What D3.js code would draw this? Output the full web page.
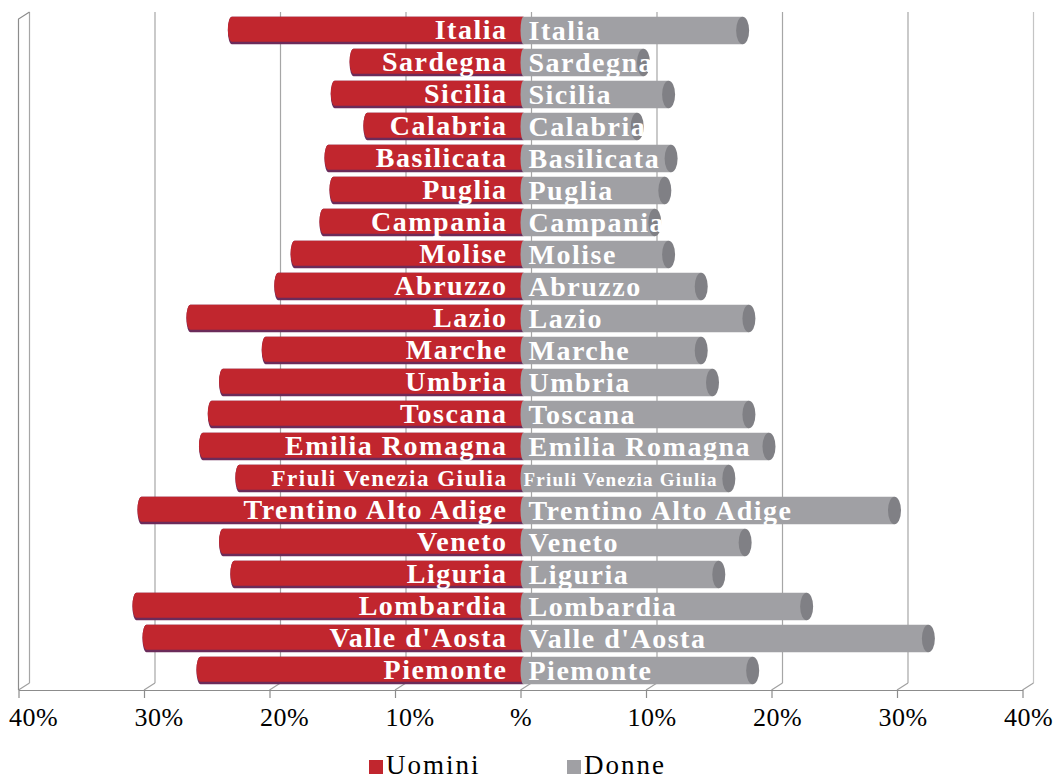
<!DOCTYPE html>
<html>
<head>
<meta charset="utf-8">
<script src="https://cdn.jsdelivr.net/npm/d3@7"></script>
<style>
  html, body { margin: 0; padding: 0; background: #ffffff; }
  svg { display: block; }
</style>
</head>
<body>
<script>
// ---------------- DATA ----------------
const regions = ["Italia","Sardegna","Sicilia","Calabria","Basilicata","Puglia","Campania","Molise","Abruzzo","Lazio","Marche","Umbria","Toscana","Emilia Romagna","Friuli Venezia Giulia","Trentino Alto Adige","Veneto","Liguria","Lombardia","Valle d'Aosta","Piemonte"];
const uomini = [23.0,13.3,14.8,12.2,15.3,14.9,15.7,18.0,19.3,26.3,20.3,23.7,24.6,25.3,22.4,30.2,23.7,22.8,30.6,29.8,25.5];
const donne  = [17.7,9.8,11.8,9.3,12.0,11.5,10.7,11.8,14.4,18.2,14.4,15.3,18.2,19.8,16.6,29.8,17.9,15.8,22.8,32.5,18.5];
const tickValues = [-40,-30,-20,-10,0,10,20,30,40];
const tickLabels = ["40%","30%","20%","10%","%","10%","20%","30%","40%"];
const seriesNames = ["Uomini","Donne"];

// ---------------- SETUP ----------------
const W = 1057, H = 780;
const RED = "#c1262e", RED_SHADOW = "#6b2b5a", GRAY = "#a0a0a4", GRAY_CAP = "#808085";
const FONT = "'Liberation Serif', 'Times New Roman', serif";
const baseY = 690, depthX = 11, depthY = -7, topY = 12;

const svg = d3.select("body").append("svg").attr("width", W).attr("height", H);
svg.append("rect").attr("width", W).attr("height", H).attr("fill", "#fff");

const x = d3.scaleLinear().domain([-40, 40]).range([18.5, 1022.5]);
const y = d3.scaleBand().domain(regions).range([14.5, 686.5]).paddingInner(0.14).paddingOuter(0.07);
const h = y.bandwidth();

// ---------------- WALLS / GRID ----------------
const grid = svg.append("g").attr("fill", "none");
grid.selectAll("line.back").data(tickValues).join("line")
  .attr("x1", d => x(d) + depthX).attr("x2", d => x(d) + depthX)
  .attr("y1", topY).attr("y2", baseY + depthY)
  .attr("stroke", (d, i) => (i === tickValues.length - 1) ? "#c4c4c4" : "#a6a6a6")
  .attr("stroke-width", 1.2);
grid.selectAll("line.diag").data(tickValues).join("line")
  .attr("x1", d => x(d)).attr("y1", baseY)
  .attr("x2", d => x(d) + depthX).attr("y2", baseY + depthY)
  .attr("stroke", "#a0a0a0").attr("stroke-width", 1.2);
grid.append("path")
  .attr("d", `M${x(-40)},${baseY} L${x(-40)},${topY - depthY} L${x(-40) + depthX},${topY}`)
  .attr("stroke", "#8c8c8c").attr("stroke-width", 1.2);

// ---------------- BARS ----------------
const bars = svg.append("g");
const rows = regions.map((r, i) => ({ r, u: uomini[i], d: donne[i] }));

function redPath(d, bot) {
  const top = y(d.r), xl = x(-d.u), x0 = x(0) + 3, rx = 4, ry = (bot - top) / 2;
  return `M${x0},${top} L${xl},${top} A${rx},${ry} 0 0 0 ${xl},${bot} L${x0},${bot} Z`;
}
function grayPath(d) {
  const top = y(d.r), bot = top + h, xr = x(d.d), xl = x(0) + 3;
  return `M${xr},${top} L${xl},${top} A3,${h / 2} 0 0 0 ${xl},${bot} L${xr},${bot} Z`;
}

bars.selectAll("path.rs").data(rows).join("path").attr("class", "rs")
  .attr("d", d => redPath(d, y(d.r) + h)).attr("fill", RED_SHADOW);
bars.selectAll("path.r").data(rows).join("path").attr("class", "r")
  .attr("d", d => redPath(d, y(d.r) + h - 2.5)).attr("fill", RED);
bars.selectAll("path.g").data(rows).join("path").attr("class", "g")
  .attr("d", grayPath).attr("fill", GRAY);
bars.selectAll("ellipse.cap").data(rows).join("ellipse").attr("class", "cap")
  .attr("cx", d => x(d.d)).attr("cy", d => y(d.r) + h / 2)
  .attr("rx", 6.5).attr("ry", h / 2).attr("fill", GRAY_CAP);

// ---------------- BAR LABELS ----------------
const labels = svg.append("g").attr("font-family", FONT).attr("font-weight", "bold").attr("fill", "#fff");
const isLong = r => r.length > 19;
labels.selectAll("text.lr").data(rows).join("text").attr("class", "lr")
  .attr("x", x(0) - 13).attr("text-anchor", "end")
  .attr("y", d => y(d.r) + h / 2 + (isLong(d.r) ? 23 : 28) * 0.32)
  .attr("font-size", d => isLong(d.r) ? 23 : 28)
  .attr("letter-spacing", "1.5px").text(d => d.r);
labels.selectAll("text.lg").data(rows).join("text").attr("class", "lg")
  .attr("x", d => x(0) + (isLong(d.r) ? 3 : 8)).attr("text-anchor", "start")
  .attr("y", d => y(d.r) + h / 2 + (isLong(d.r) ? 19 : 28) * 0.32 + 1)
  .attr("font-size", d => isLong(d.r) ? 19 : 28)
  .attr("letter-spacing", d => isLong(d.r) ? "1.2px" : "1.5px").text(d => d.r);

// ---------------- AXIS ----------------
const axis = d3.axisBottom(x).tickValues(tickValues)
  .tickFormat((d, i) => tickLabels[i]).tickSize(8).tickPadding(10).tickSizeOuter(0);
const ag = svg.append("g").attr("transform", `translate(0,${baseY})`).call(axis);
ag.select(".domain").attr("stroke", "#8c8c8c").attr("stroke-width", 1.2);
ag.selectAll(".tick line").attr("stroke", "#8c8c8c").attr("stroke-width", 1.2);
ag.selectAll(".tick text").attr("font-family", FONT).attr("font-size", 26)
  .attr("fill", "#000").attr("letter-spacing", "0.5px")
  .attr("dx", d => d < 0 ? 14.5 : (d > 0 ? 5.5 : 0));

// ---------------- LEGEND ----------------
const legendX = [369, 567];
const lg = svg.append("g").attr("font-family", FONT).attr("font-size", 27);
seriesNames.forEach((s, i) => {
  lg.append("rect").attr("x", legendX[i]).attr("y", 760).attr("width", 14).attr("height", 14)
    .attr("fill", i === 0 ? RED : GRAY);
  lg.append("text").attr("x", legendX[i] + 17).attr("y", 774).attr("fill", "#000")
    .attr("letter-spacing", "2px").text(s);
});
</script>
</body>
</html>
